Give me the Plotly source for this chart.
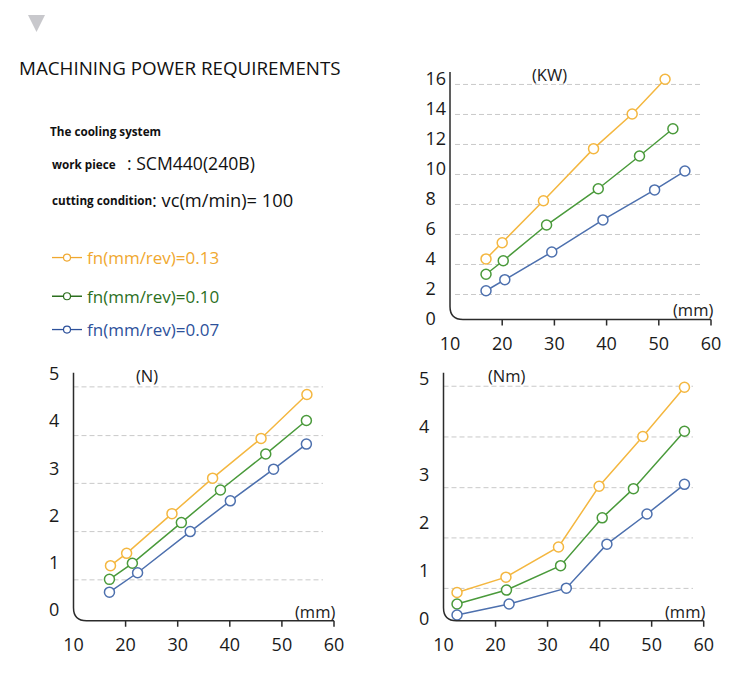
import plotly.graph_objects as go

# Figure is kept a few pixels shorter than the 689px window so the page
# never overflows (which would trigger scrollbars and rescaling).
W, H = 750, 680

# ---------------- data ----------------
series_names = ["fn(mm/rev)=0.13", "fn(mm/rev)=0.10", "fn(mm/rev)=0.07"]
line_colors = ["#f4b740", "#4a9a3b", "#4d70ae"]
text_colors = ["#f0a830", "#2c6f1e", "#2d519b"]

# Power (KW)
kw_x_013 = [16.9, 20.0, 27.9, 37.5, 44.9, 51.2]
kw_y_013 = [3.97, 5.05, 7.85, 11.32, 13.63, 15.95]
kw_x_010 = [16.9, 20.2, 28.5, 38.4, 46.3, 52.7]
kw_y_010 = [2.95, 3.85, 6.23, 8.65, 10.83, 12.65]
kw_x_007 = [16.9, 20.5, 29.5, 39.3, 49.2, 55.0]
kw_y_007 = [1.85, 2.59, 4.43, 6.57, 8.57, 9.83]

# Force (N)
n_x_013 = [17.1, 20.2, 28.9, 36.7, 46.0, 54.8]
n_y_013 = [0.94, 1.20, 2.04, 2.79, 3.63, 4.56]
n_x_010 = [16.9, 21.3, 30.7, 38.2, 46.9, 54.7]
n_y_010 = [0.65, 0.99, 1.85, 2.54, 3.30, 4.01]
n_x_007 = [16.9, 22.3, 32.4, 40.1, 48.4, 54.7]
n_y_007 = [0.38, 0.79, 1.66, 2.31, 2.98, 3.51]

# Torque (Nm)
nm_x_013 = [12.6, 22.0, 32.1, 39.9, 48.3, 56.3]
nm_y_013 = [0.54, 0.86, 1.49, 2.76, 3.80, 4.83]
nm_x_010 = [12.6, 22.1, 32.5, 40.5, 46.5, 56.3]
nm_y_010 = [0.30, 0.59, 1.10, 2.10, 2.71, 3.91]
nm_x_007 = [12.6, 22.6, 33.6, 41.4, 49.1, 56.3]
nm_y_007 = [0.07, 0.30, 0.63, 1.55, 2.18, 2.80]

x_ticks = [10, 20, 30, 40, 50, 60]
kw_ticks = [0, 2, 4, 6, 8, 10, 12, 14, 16]
n_ticks = [0, 1, 2, 3, 4, 5]
nm_ticks = [0, 1, 2, 3, 4, 5]

# dashed guide levels (drawn slightly off the labelled ticks, as in the original)
kw_grid = [1.6, 3.6, 5.6, 7.6, 9.6, 11.6, 13.6, 15.6]
n_grid = [0.64, 1.66, 2.68, 3.69, 4.72]
nm_grid = [0.625, 1.68, 2.73, 3.79, 4.85]

# ---------------- geometry (pixels -> paper) ----------------
def px(x):
    return x / W

def py(y):
    return 1 - y / H

panels = {
    "kw": dict(xl=450, xr=711, yt=72, yb=319.5, yr=[-0.067, 16.43], xs="x", ys="y",
               gx=(455, 700)),
    "n": dict(xl=73.5, xr=334, yt=372.7, yb=620.7, yr=[-0.224, 5.02], xs="x2", ys="y2",
              gx=(73.5, 323)),
    "nm": dict(xl=443.5, xr=703.7, yt=372.7, yb=620.7, yr=[-0.05, 5.133], xs="x3", ys="y3",
               gx=(443.5, 693)),
}

fig = go.Figure()

sets = {
    "kw": [(kw_x_013, kw_y_013), (kw_x_010, kw_y_010), (kw_x_007, kw_y_007)],
    "n": [(n_x_013, n_y_013), (n_x_010, n_y_010), (n_x_007, n_y_007)],
    "nm": [(nm_x_013, nm_y_013), (nm_x_010, nm_y_010), (nm_x_007, nm_y_007)],
}
legend_ids = ["legend", "legend2", "legend3"]

for pname, pdata in sets.items():
    p = panels[pname]
    for i, (xs, ys) in enumerate(pdata):
        fig.add_trace(go.Scatter(
            x=xs, y=ys, mode="lines+markers", name=series_names[i],
            xaxis=p["xs"], yaxis=p["ys"],
            line=dict(color=line_colors[i], width=1.5),
            marker=dict(size=10, color="white", line=dict(color=line_colors[i], width=1.5)),
            cliponaxis=False, showlegend=False, hoverinfo="x+y",
        ))

# legend-only entries (smaller symbol, as in the original key)
for i, lid in enumerate(legend_ids):
    fig.add_trace(go.Scatter(
        x=[None], y=[None], mode="lines+markers", name=series_names[i],
        line=dict(color=text_colors[i], width=1.3),
        marker=dict(size=7, color="white", line=dict(color=text_colors[i], width=1.2)),
        showlegend=True, legend=lid, hoverinfo="skip",
    ))

def pad(v):
    s = str(v)
    return s + "\u2007" if len(s) == 1 else s

tick_font = dict(family="Open Sans, sans-serif", size=18, color="#1a1a1a")

layout_axes = {}
for idx, (pname, ticks) in enumerate([("kw", kw_ticks), ("n", n_ticks), ("nm", nm_ticks)]):
    p = panels[pname]
    suffix = "" if idx == 0 else str(idx + 1)
    layout_axes["xaxis" + suffix] = dict(
        domain=[px(p["xl"]), px(p["xr"])], range=[10, 60], anchor="y" + suffix,
        tickmode="array", tickvals=x_ticks, ticktext=[str(v) for v in x_ticks],
        showgrid=False, zeroline=False, showline=False, ticks="",
        tickfont=tick_font, ticklabelstandoff=11, automargin=False,
    )
    layout_axes["yaxis" + suffix] = dict(
        domain=[py(p["yb"]), py(p["yt"])], range=p["yr"], anchor="x" + suffix,
        tickmode="array", tickvals=ticks, ticktext=[pad(v) for v in ticks],
        showgrid=False, zeroline=False, showline=False, ticks="",
        tickfont=tick_font, ticklabelstandoff=3, automargin=False,
    )

shapes = []
for pname, levels in [("kw", kw_grid), ("n", n_grid), ("nm", nm_grid)]:
    p = panels[pname]
    x0 = 10 + (p["gx"][0] - p["xl"]) * 50 / (p["xr"] - p["xl"])
    x1 = 10 + (p["gx"][1] - p["xl"]) * 50 / (p["xr"] - p["xl"])
    for lv in levels:
        shapes.append(dict(type="line", xref=p["xs"], yref=p["ys"], x0=x0, x1=x1, y0=lv, y1=lv,
                           line=dict(color="#c9c9c9", width=1, dash="5px,3px"), layer="below"))

r = 13
for pname, p in panels.items():
    xl, xr, yt, yb = p["xl"], p["xr"], p["yt"], p["yb"]
    path = (f"M {px(xl)},{py(yt)} L {px(xl)},{py(yb - r)} "
            f"Q {px(xl)},{py(yb)} {px(xl + r)},{py(yb)} L {px(xr)},{py(yb)}")
    for v in x_ticks[1:]:
        tx = xl + (v - 10) * (xr - xl) / 50
        path += f" M {px(tx)},{py(yb)} L {px(tx)},{py(yb + 6)}"
    shapes.append(dict(type="path", xref="paper", yref="paper", path=path,
                       line=dict(color="#2b2b2b", width=1.5)))

shapes.append(dict(type="path", xref="paper", yref="paper",
                   path=f"M {px(28)},{py(15)} L {px(45)},{py(15)} L {px(36.5)},{py(32)} Z",
                   fillcolor="#c8c8cc", line=dict(width=0)))

unit_font = dict(family="Open Sans, sans-serif", size=16.5, color="#1a1a1a")
annotations = [
    dict(text="(KW)", x=px(549), y=py(74)),
    dict(text="(mm)", x=px(692.5), y=py(310)),
    dict(text="(N)", x=px(146.7), y=py(375)),
    dict(text="(mm)", x=px(315), y=py(611)),
    dict(text="(Nm)", x=px(506.7), y=py(375)),
    dict(text="(mm)", x=px(685), y=py(611)),
]
for a in annotations:
    a.update(xref="paper", yref="paper", showarrow=False, font=unit_font,
             xanchor="center", yanchor="middle")

bold_font = dict(family="Open Sans, sans-serif", size=11.7, color="#111111")
info_texts = [
    dict(text="MACHINING POWER REQUIREMENTS", x=px(16.5), y=py(68),
         font=dict(family="Open Sans, sans-serif", size=18.8, color="#111111")),
    dict(text="<b>The cooling system</b>", x=px(48), y=py(131), font=bold_font),
    dict(text="<b>work piece</b>", x=px(50), y=py(164), font=bold_font),
    dict(text=": SCM440(240B)", x=px(125), y=py(163),
         font=dict(family="Open Sans, sans-serif", size=17.6, color="#111111")),
    dict(text="<b>cutting condition</b>", x=px(49.5), y=py(200), font=bold_font),
    dict(text=": vc(m/min)= 100", x=px(149.5), y=py(199),
         font=dict(family="Open Sans, sans-serif", size=18.3, color="#111111")),
]
for a in info_texts:
    a.update(xref="paper", yref="paper", showarrow=False, xanchor="left", yanchor="middle")
annotations += info_texts

legend_y = [258, 296.7, 330]
legends = {}
for i, lid in enumerate(legend_ids):
    legends[lid] = dict(
        x=px(47), y=py(legend_y[i]), xanchor="left", yanchor="middle",
        font=dict(family="Open Sans, sans-serif", size=17, color=text_colors[i]),
        bgcolor="rgba(0,0,0,0)", borderwidth=0,
    )

fig.update_layout(
    width=W, height=H, margin=dict(l=0, r=0, t=0, b=0),
    paper_bgcolor="white", plot_bgcolor="white",
    shapes=shapes, annotations=annotations,
    **layout_axes, **legends,
)

fig.write_html("out.html")
